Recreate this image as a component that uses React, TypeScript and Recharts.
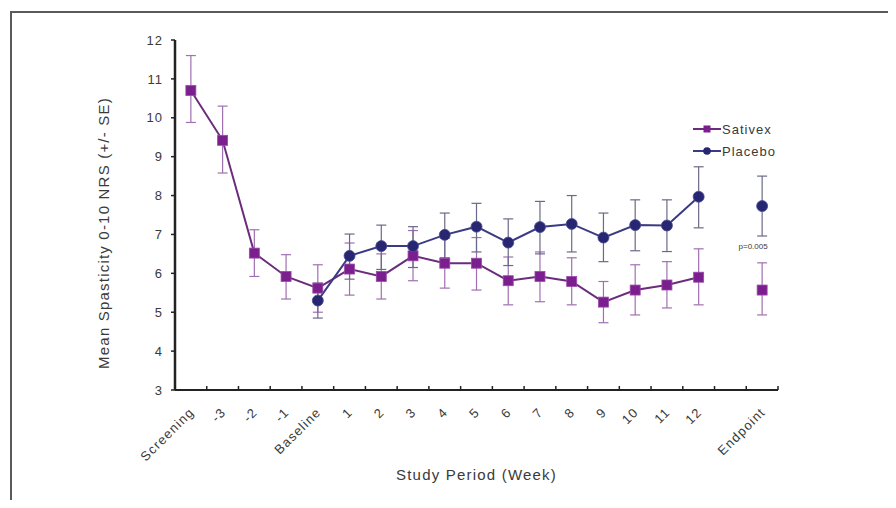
import { ComposedChart, Line, XAxis, YAxis, ErrorBar, ReferenceDot, Label } from "recharts";

const categories = ["Screening", "-3", "-2", "-1", "Baseline", "1", "2", "3", "4", "5", "6", "7", "8", "9", "10", "11", "12", "", "Endpoint"];

const sativexMean = [10.7, 9.42, 6.52, 5.92, 5.62, 6.11, 5.92, 6.45, 6.26, 6.26, 5.81, 5.92, 5.79, 5.26, 5.57, 5.7, 5.9, null, 5.57];
const sativexLow = [9.88, 8.58, 5.92, 5.34, 5.0, 5.44, 5.34, 5.81, 5.62, 5.57, 5.19, 5.27, 5.19, 4.73, 4.93, 5.11, 5.19, null, 4.93];
const sativexHigh = [11.6, 10.3, 7.12, 6.48, 6.22, 6.78, 6.5, 7.1, 6.9, 6.92, 6.42, 6.55, 6.4, 5.79, 6.22, 6.3, 6.63, null, 6.27];

const placeboMean = [null, null, null, null, 5.3, 6.45, 6.7, 6.7, 6.99, 7.2, 6.79, 7.19, 7.27, 6.92, 7.24, 7.23, 7.97, null, 7.73];
const placeboLow = [null, null, null, null, 4.85, 5.85, 6.1, 6.15, 6.4, 6.55, 6.2, 6.5, 6.55, 6.3, 6.58, 6.56, 7.17, null, 6.96];
const placeboHigh = [null, null, null, null, 5.75, 7.01, 7.24, 7.2, 7.55, 7.8, 7.4, 7.85, 8.0, 7.55, 7.89, 7.89, 8.74, null, 8.5];

const yTicks = [3, 4, 5, 6, 7, 8, 9, 10, 11, 12];

const data = categories.map((c, i) => ({
  period: c,
  sativex: sativexMean[i],
  sativexErr: sativexMean[i] == null ? null : [sativexMean[i]! - sativexLow[i]!, sativexHigh[i]! - sativexMean[i]!],
  placebo: placeboMean[i],
  placeboErr: placeboMean[i] == null ? null : [placeboMean[i]! - placeboLow[i]!, placeboHigh[i]! - placeboMean[i]!],
}));

const FONT = '"Liberation Sans", Arial, sans-serif';
const TEXT = "#3a3a3a";
const SATIVEX = "#7c1f8e";
const SATIVEX_LINE = "#6b2c7c";
const PLACEBO = "#262672";
const PLACEBO_LINE = "#3b3b84";

// category labels sit under the centre, tick marks sit between categories (Excel style)
function XTick(props: any) {
  const { x, y, payload, index, visibleTicksCount, width } = props;
  const half = width / visibleTicksCount / 2;
  const tx = x + 4;
  const ty = y + 23;
  return (
    <g>
      <line x1={x - half} x2={x - half} y1={y} y2={y - 4} stroke="#222" strokeWidth={1.5} />
      {index === visibleTicksCount - 1 && (
        <line x1={x + half} x2={x + half} y1={y} y2={y - 4} stroke="#222" strokeWidth={1.5} />
      )}
      <text
        x={tx}
        y={ty}
        transform={`rotate(-45 ${tx} ${ty})`}
        textAnchor="end"
        fontSize={13}
        letterSpacing={1.2}
        fill={TEXT}
        fontFamily={FONT}
      >
        {payload.value}
      </text>
    </g>
  );
}

function SquareDot(props: any) {
  const { cx, cy, index } = props;
  if (cx == null || cy == null) return <g key={`s${index}`} />;
  return <rect key={`s${index}`} x={cx - 5} y={cy - 5} width={10} height={10} fill={SATIVEX} stroke="#9a4aa8" strokeWidth={0.8} />;
}

function CircleDot(props: any) {
  const { cx, cy, index } = props;
  if (cx == null || cy == null) return <g key={`p${index}`} />;
  return <circle key={`p${index}`} cx={cx} cy={cy} r={5.5} fill={PLACEBO} stroke="#4a4a90" strokeWidth={0.8} />;
}

function LegendBox() {
  const items = [
    { name: "Sativex", color: SATIVEX_LINE, shape: "square" },
    { name: "Placebo", color: PLACEBO_LINE, shape: "circle" },
  ];
  return (
    <div style={{ position: "absolute", left: 693, top: 118, fontFamily: FONT, fontSize: 13, letterSpacing: 1, color: TEXT }}>
      {items.map((it) => (
        <div key={it.name} style={{ display: "flex", alignItems: "center", height: 22 }}>
          <svg width={28} height={12} style={{ marginRight: 1 }}>
            <line x1={0} x2={28} y1={6} y2={6} stroke={it.color} strokeWidth={2} />
            {it.shape === "square" ? (
              <rect x={10.5} y={2.5} width={7} height={7} fill={SATIVEX} />
            ) : (
              <circle cx={14} cy={6} r={3.8} fill={PLACEBO} />
            )}
          </svg>
          <span>{it.name}</span>
        </div>
      ))}
    </div>
  );
}

export default function App() {
  return (
    <div style={{ position: "relative", width: 896, height: 508, margin: -8, overflow: "hidden", background: "#fff" }}>
      <div
        style={{
          position: "absolute",
          left: 10,
          top: 11,
          width: 920,
          height: 520,
          borderTop: "2px solid #5a5a5a",
          borderLeft: "2px solid #5a5a5a",
        }}
      />
      <div style={{ position: "absolute", left: 0, top: 0 }}>
        <ComposedChart width={896} height={508} data={data} margin={{ top: 40, right: 118, bottom: 18, left: 115 }}>
          <XAxis
            dataKey="period"
            scale="band"
            interval={0}
            height={100}
            tickLine={false}
            tickSize={0}
            tickMargin={0}
            axisLine={{ stroke: "#222", strokeWidth: 2 }}
            tick={<XTick />}
          >
            <Label
              value="Study Period (Week)"
              position="insideBottom"
              offset={10}
              fontSize={15}
              letterSpacing={1.2}
              fill={TEXT}
              fontFamily={FONT}
            />
          </XAxis>
          <YAxis
            type="number"
            domain={[3, 12]}
            ticks={yTicks}
            width={60}
            tickSize={4}
            tickMargin={8}
            tickLine={{ stroke: "#222", strokeWidth: 1.5 }}
            axisLine={{ stroke: "#222", strokeWidth: 2.5 }}
            tick={{ fontSize: 13, fill: TEXT, fontFamily: FONT, letterSpacing: 1 }}
          >
            <Label
              content={({ viewBox }: any) => {
                const cx = viewBox.x - 12;
                const cy = viewBox.y + viewBox.height / 2 + 18;
                return (
                  <text
                    x={cx}
                    y={cy}
                    transform={`rotate(-90 ${cx} ${cy})`}
                    textAnchor="middle"
                    dominantBaseline="central"
                    fontSize={15}
                    letterSpacing={1.2}
                    fill={TEXT}
                    fontFamily={FONT}
                  >
                    Mean Spasticity 0-10 NRS (+/- SE)
                  </text>
                );
              }}
            />
          </YAxis>
          <Line
            dataKey="sativex"
            name="Sativex"
            stroke={SATIVEX_LINE}
            strokeWidth={2}
            dot={<SquareDot />}
            activeDot={false}
            isAnimationActive={false}
          >
            <ErrorBar dataKey="sativexErr" width={5} stroke="#a070b0" strokeWidth={1.2} />
          </Line>
          <Line
            dataKey="placebo"
            name="Placebo"
            stroke={PLACEBO_LINE}
            strokeWidth={2}
            dot={<CircleDot />}
            activeDot={false}
            isAnimationActive={false}
          >
            <ErrorBar dataKey="placeboErr" width={5} stroke="#6a6a88" strokeWidth={1.2} />
          </Line>
          <ReferenceDot
            x="Endpoint"
            y={6.7}
            r={1}
            fill="none"
            stroke="none"
            label={{ value: "p=0.005", position: "center", dx: -9, fontSize: 8, fill: TEXT, fontFamily: FONT }}
          />
        </ComposedChart>
      </div>
      <LegendBox />
    </div>
  );
}
